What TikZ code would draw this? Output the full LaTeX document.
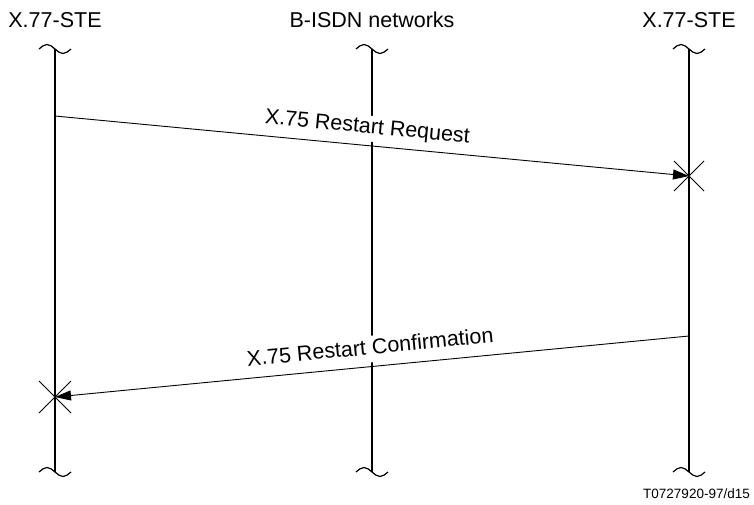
\documentclass[tikz,border=0pt]{standalone}
\usepackage{fontspec}
\setmainfont{Liberation Sans}
\usetikzlibrary{arrows.meta}
\begin{document}
\begin{tikzpicture}[x=1pt,y=-1pt,
  lifeline/.style={line width=1.8pt},
  tildemark/.style={line width=1.2pt},
  msg/.style={line width=0.9pt,-{Triangle[length=16pt,width=10pt]}},
  msglabel/.style={font=\fontsize{21.5pt}{25pt}\selectfont,sloped,above=4pt,fill=white,inner sep=3pt,text depth=5pt},
  crossmark/.style={line width=0.8pt},
  title/.style={font=\fontsize{21.5pt}{25pt}\selectfont,anchor=base,inner sep=0pt},
  tag/.style={font=\fontsize{13.5pt}{16pt}\selectfont,anchor=base east,inner sep=0pt}]
\useasboundingbox (0,0) rectangle (754,504);
% titles
\node[title] (t1) at (55,27) {X.77-STE};
\node[title] (t2) at (372,27) {B-ISDN networks};
\node[title] (t3) at (689,27) {X.77-STE};
% lifeline ends
\foreach \n/\x in {A/55,B/372,C/689}{
  \coordinate (\n top) at (\x,49);
  \coordinate (\n bot) at (\x,472);
  \draw[lifeline] (\n top) -- (\n bot);
  \draw[tildemark] ([xshift=-16pt]\n top) sin ++(8,-4.5) cos ++(8,4.5) sin ++(8,4.5) cos ++(8,-4.5);
  \draw[tildemark] ([xshift=-16pt]\n bot) sin ++(8,-4.5) cos ++(8,4.5) sin ++(8,4.5) cos ++(8,-4.5);
}
% message endpoints
\coordinate (m1s) at (55,116);
\coordinate (m1e) at (689,176);
\coordinate (m2s) at (689,336);
\coordinate (m2e) at (55,397);
% labels (white boxes break the middle lifeline)
\path (m1s) -- (m1e) node[msglabel,pos=0.49] (l1) {X.75 Restart Request};
\path (m2e) -- (m2s) node[msglabel,pos=0.5] (l2) {X.75 Restart Confirmation};
% messages
\draw[msg] (m1s) -- (m1e);
\draw[msg] (m2s) -- (m2e);
% cross marks
\draw[crossmark] ([shift={(-15,-15)}]m1e) -- ([shift={(15,15)}]m1e);
\draw[crossmark] ([shift={(15,-15)}]m1e) -- ([shift={(-15,15)}]m1e);
\draw[crossmark] ([shift={(-16,-16)}]m2e) -- ([shift={(16,16)}]m2e);
\draw[crossmark] ([shift={(16,-16)}]m2e) -- ([shift={(-16,16)}]m2e);
% figure tag
\node[tag] (tag) at (750,498) {T0727920-97/d15};
\end{tikzpicture}
\end{document}
